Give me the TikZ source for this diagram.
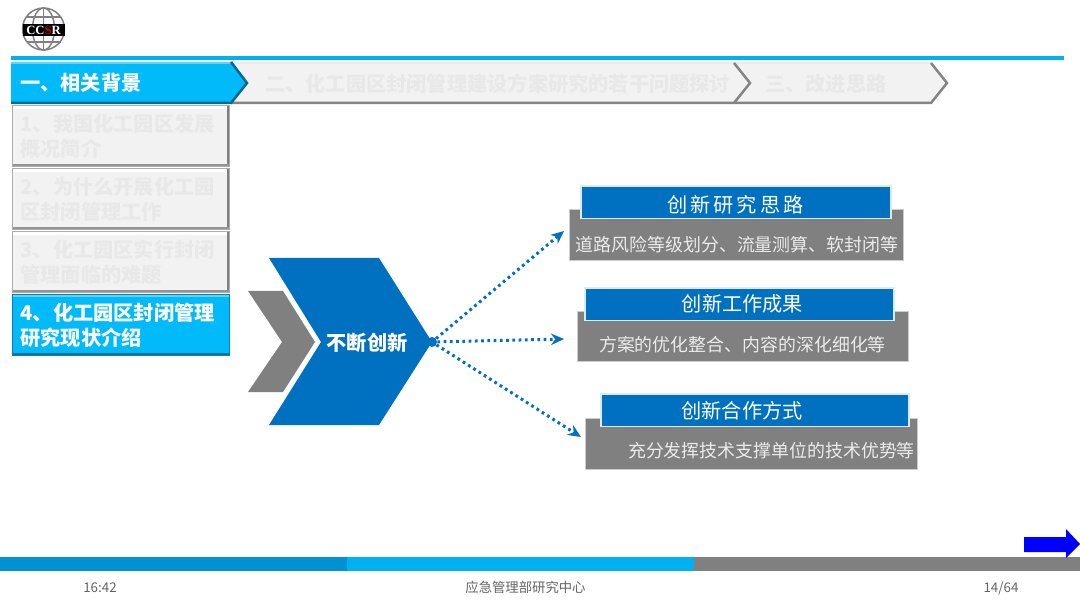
\documentclass[tikz,border=0pt]{standalone}
\usepackage{fontspec}
\setmainfont{Noto Sans CJK SC}
\newfontfamily\logofont{Liberation Serif}
\usepackage{tikz}
\usetikzlibrary{arrows.meta, positioning, calc}
\usepackage{xcolor}
\definecolor{skyblue}{RGB}{0,176,240}
\definecolor{tabblue}{RGB}{0,186,250}
\definecolor{deepblue}{RGB}{0,112,192}
\definecolor{barblue}{RGB}{0,145,213}
\definecolor{midgray}{RGB}{128,128,128}
\definecolor{tabgray}{RGB}{243,242,243}
\definecolor{fadetext}{RGB}{232,232,232}
\definecolor{foottext}{RGB}{100,100,100}

\begin{document}
\begin{tikzpicture}[x=0.02cm, y=-0.02cm,
    sidebox/.style={rectangle, anchor=north west, align=left, inner xsep=0.16cm, inner ysep=0pt,
      minimum width=4.34cm, minimum height=1.22cm, text width=4.02cm, outer sep=0pt,
      font=\fontsize{11.5pt}{14.2pt}\selectfont\bfseries, line width=0.035cm},
    sidegray/.style={sidebox, fill=tabgray, draw=black!32, text=fadetext,
      path picture={
        \draw[white, line width=0.14cm] (path picture bounding box.north west) -- (path picture bounding box.north east);
        \draw[black!50, line width=0.1cm] (path picture bounding box.north east) -- (path picture bounding box.south east);
        \draw[black!42, line width=0.1cm] (path picture bounding box.south west) -- (path picture bounding box.south east);
      }},
    sideblue/.style={sidebox, fill=tabblue, draw=skyblue!75!black, text=white,
      path picture={
        \draw[skyblue!60!white, line width=0.12cm] (path picture bounding box.north west) -- (path picture bounding box.north east);
        \draw[skyblue!65!black, line width=0.08cm] (path picture bounding box.south west) -- (path picture bounding box.south east);
      }},
    tablabel/.style={anchor=west, inner sep=0pt, font=\fontsize{11.5pt}{14pt}\selectfont\bfseries},
    tabedge/.style={draw=black!48, line width=0.05cm},
    tabtop/.style={draw=black!8, line width=0.05cm},
    bluebox/.style={rectangle, anchor=north west, fill=deepblue, draw=deepblue!14, line width=0.03cm,
      text=white, inner sep=0pt, outer sep=0pt, minimum height=0.65cm},
    graybox/.style={rectangle, anchor=north west, fill=midgray, draw=midgray!40, line width=0.02cm,
      inner sep=0pt, outer sep=0pt},
    titletext/.style={font=\fontsize{11.5pt}{14pt}\selectfont, inner sep=0pt},
    bodytext/.style={font=\fontsize{10.2pt}{12pt}\selectfont, text=white!92!black, inner sep=0pt},
    foot/.style={font=\fontsize{7.6pt}{9pt}\selectfont, text=foottext, inner sep=0pt},
    arrow/.style={-{Stealth[length=2.6mm, width=2.3mm]}, line width=0.06cm, deepblue,
      dash pattern=on 0.055cm off 0.07cm}]
    \useasboundingbox (0,0) rectangle (1080,608);

    % logo
    \begin{scope}[shift={(43.5,29)}]
      \draw[midgray, line width=0.03cm] (0,0) circle (0.42cm);
      \draw[midgray, line width=0.03cm] (0,0) ellipse (0.22cm and 0.42cm);
      \draw[midgray, line width=0.03cm] (0,-21) -- (0,21);
      \draw[midgray, line width=0.03cm] (-17,-12) -- (17,-12);
      \draw[midgray, line width=0.03cm] (-17,13) -- (17,13);
      \fill[black] (-21,-5) rectangle (21,7);
      \node[inner sep=0pt, text=white] (logotext) at (0,1)
        {\logofont\fontsize{7.2pt}{8pt}\selectfont\bfseries CC\textcolor{red!80!black}{S}R};
    \end{scope}

    % top rule
    \fill[skyblue] (11,56) rectangle (1064,60);

    % tabs
    \fill[tabgray] (734,63) -- (931,63) -- (947,83) -- (931,103) -- (734,103) -- (750,83) -- cycle;
    \draw[tabtop] (734,63) -- (931,63);
    \draw[tabedge] (931,63) -- (947,83) -- (931,103) -- (734,103);
    \fill[tabgray] (231,63) -- (734,63) -- (750,83) -- (734,103) -- (231,103) -- (247,83) -- cycle;
    \draw[tabtop] (231,63) -- (734,63);
    \draw[tabedge] (734,63) -- (750,83) -- (734,103) -- (231,103);
    \fill[tabblue] (11,62) -- (231,62) -- (247,83) -- (231,103) -- (11,103) -- cycle;
    \draw[skyblue!60!white, line width=0.05cm] (11,63) -- (231,63);
    \draw[skyblue!60!black, line width=0.05cm] (231,62) -- (247,83) -- (231,103) -- (11,103);
    \node[tablabel, text=white] (taba) at (20,83) {一、相关背景};
    \node[tablabel, text=fadetext] (tabb) at (265,84) {二、化工园区封闭管理建设方案研究的若干问题探讨};
    \node[tablabel, text=fadetext] (tabc) at (765,84) {三、改进思路};

    % side menu
    \node[sidegray] (itema) at (12.5,105.5) {1、我国化工园区发展\\概况简介};
    \node[sidegray] (itemb) at (12.5,168.5) {2、为什么开展化工园\\区封闭管理工作};
    \node[sidegray] (itemc) at (12.5,231.5) {3、化工园区实行封闭\\管理面临的难题};
    \node[sideblue] (itemd) at (12.5,294.5) {4、化工园区封闭管理\\研究现状介绍};

    % chevrons
    \fill[midgray] (248,291) -- (283,291) -- (315,342) -- (283,392) -- (248,392) -- (282,342) -- cycle;
    \fill[deepblue] (269,258) -- (379,258) -- (432,342) -- (379,425) -- (269,425) -- (321,342) -- cycle;
    \node[text=white, inner sep=0pt, font=\fontsize{11.5pt}{14pt}\selectfont\bfseries] (main) at (367,343) {不断创新};
    \node[circle, fill=deepblue, inner sep=0pt, minimum size=0.2cm] (hub) at (432,342) {};

    % right boxes
    \node[graybox, minimum width=6.7cm, minimum height=1.02cm] (grayA) at (569,210) {};
    \node[bluebox, minimum width=6.2cm] (blueA) at (581,186) {};
    \node[titletext, text=white] (titleA) at (735.5,204.5) {\addfontfeature{LetterSpace=15}创新研究思路};
    \node[bodytext] (bodyA) at (737,245) {道路风险等级划分、流量测算、软封闭等};

    \node[graybox, minimum width=6.64cm, minimum height=1cm] (grayB) at (577,312) {};
    \node[bluebox, minimum width=6.18cm] (blueB) at (585,288) {};
    \node[titletext, text=white] (titleB) at (742.5,304) {创新工作成果};
    \node[bodytext] (bodyB) at (742.5,345) {方案的优化整合、内容的深化细化等};

    \node[graybox, minimum width=6.66cm, minimum height=1.04cm] (grayC) at (585,418) {};
    \node[bluebox, minimum width=6.16cm] (blueC) at (601,394) {};
    \node[titletext, text=white] (titleC) at (742,411) {创新合作方式};
    \node[bodytext] (bodyC) at (771.5,451) {充分发挥技术支撑单位的技术优势等};

    % connectors
    \coordinate (endA) at (564,231);
    \coordinate (endB) at (564,339);
    \coordinate (endC) at (581,437);
    \draw[arrow] (hub) -- (endA);
    \draw[arrow] (hub) -- (endB);
    \draw[arrow] (hub) -- (endC);

    % footer
    \fill[barblue] (0,557) rectangle (347,571);
    \fill[skyblue] (347,557) rectangle (694,571);
    \fill[midgray] (694,557) rectangle (1080,571);
    \fill[blue] (1024,537) -- (1066,537) -- (1066,529) -- (1080,544) -- (1066,558) -- (1066,552) -- (1024,552) -- cycle;
    \node[foot] (clock) at (100,588) {16:42};
    \node[foot] (org) at (525.5,587) {应急管理部研究中心};
    \node[foot] (page) at (1001,588) {14/64};
  \end{tikzpicture}
\end{document}
